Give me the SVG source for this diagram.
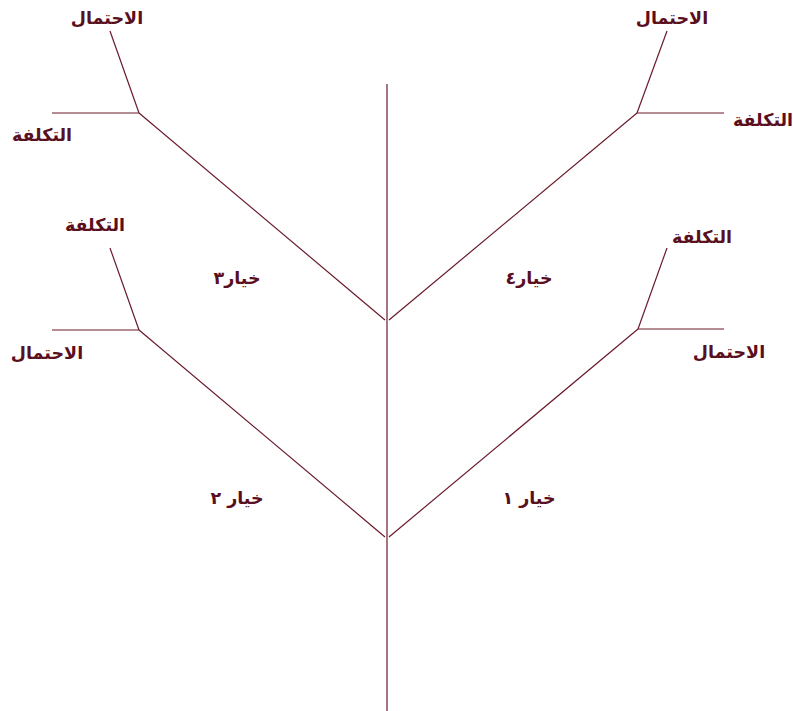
<svg xmlns="http://www.w3.org/2000/svg" width="793" height="711" viewBox="0 0 793 711">
<style>
.ln{stroke:#6a1b2b;stroke-width:1.2;fill:none}
.t{font-family:"DejaVu Sans","Noto Sans",sans-serif;font-weight:bold;font-size:17.5px;fill:#5a0f1e;text-anchor:middle}
</style>
<rect width="793" height="711" fill="#fff"/>
<g id="connectors">
<line class="ln" x1="387" y1="84" x2="387" y2="711"/>
<line class="ln" x1="385" y1="320" x2="139" y2="113"/>
<line class="ln" x1="389" y1="320" x2="637" y2="113"/>
<line class="ln" x1="385" y1="537" x2="139" y2="330"/>
<line class="ln" x1="389" y1="537" x2="638" y2="329"/>
<line class="ln" x1="139" y1="113" x2="110" y2="31"/>
<line class="ln" x1="139" y1="113" x2="52" y2="113"/>
<line class="ln" x1="637" y1="113" x2="667" y2="31"/>
<line class="ln" x1="637" y1="113" x2="724" y2="113"/>
<line class="ln" x1="139" y1="330" x2="110" y2="248"/>
<line class="ln" x1="139" y1="330" x2="52" y2="330"/>
<line class="ln" x1="638" y1="329" x2="667" y2="248"/>
<line class="ln" x1="638" y1="329" x2="724" y2="329"/>
</g>
<g id="option3">
<text class="t" x="237" y="284" direction="rtl">خيار٣</text>
<text class="t" x="107" y="24" direction="rtl">الاحتمال</text>
<text class="t" x="42" y="141" direction="rtl">التكلفة</text>
</g>
<g id="option4">
<text class="t" x="529" y="284" direction="rtl">خيار٤</text>
<text class="t" x="672" y="24" direction="rtl">الاحتمال</text>
<text class="t" x="763" y="126" direction="rtl">التكلفة</text>
</g>
<g id="option2">
<text class="t" x="237" y="504" direction="rtl">خيار ٢</text>
<text class="t" x="95" y="231" direction="rtl">التكلفة</text>
<text class="t" x="47" y="359" direction="rtl">الاحتمال</text>
</g>
<g id="option1">
<text class="t" x="529" y="504" direction="rtl">خيار ١</text>
<text class="t" x="702" y="243" direction="rtl">التكلفة</text>
<text class="t" x="729" y="358" direction="rtl">الاحتمال</text>
</g>
</svg>
